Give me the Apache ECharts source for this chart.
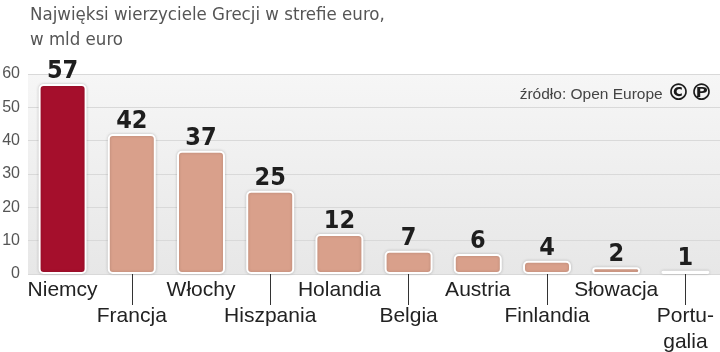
<!DOCTYPE html>
<html>
<head>
<meta charset="utf-8">
<script src="https://cdn.jsdelivr.net/npm/echarts@6/dist/echarts.min.js"></script>
<style>
  html, body { margin: 0; padding: 0; background: #fff; }
  #chart { width: 720px; height: 352px; }
</style>
</head>
<body>
<div id="chart"></div>
<script>
// dane: najwięksi wierzyciele Grecji (mld euro)
const countries = ['Niemcy', 'Francja', 'Włochy', 'Hiszpania', 'Holandia', 'Belgia', 'Austria', 'Finlandia', 'Słowacja', 'Portu-\ngalia']
const values = [57, 42, 37, 25, 12, 7, 6, 4, 2, 1]
const yTicks = [0, 10, 20, 30, 40, 50, 60]

const titleText = 'Najwięksi wierzyciele Grecji w strefie euro,\nw mld euro'
const sourceText = 'źródło: Open Europe'

const narrow = '"DejaVu Sans Condensed", sans-serif'
const plain = '"Liberation Sans", Roboto, sans-serif'

let myChart = echarts.init(document.getElementById('chart'))
let option = {
  animation: false,
  title: [
    {
      text: titleText,
      left: 25,
      top: -2,
      textStyle: {
        fontFamily: narrow,
        fontSize: 18.5,
        fontWeight: 'normal',
        lineHeight: 25,
        color: '#555'
      }
    },
    {
      text: sourceText + ' {cp|©℗}',
      right: 2,
      top: 78,
      textStyle: {
        fontFamily: plain,
        fontSize: 15.5,
        fontWeight: 'normal',
        color: '#444',
        rich: {
          cp: {
            fontFamily: '"DejaVu Sans", sans-serif',
            fontWeight: 'bold',
            fontSize: 23,
            color: '#1a1a1a'
          }
        }
      }
    }
  ],
  grid: {
    left: 28,
    right: 0,
    top: 74,
    bottom: 78,
    outerBoundsMode: 'none',
    show: true,
    borderWidth: 0,
    backgroundColor: new echarts.graphic.LinearGradient(0, 0, 0, 1, [
      { offset: 0, color: '#f6f6f6' },
      { offset: 1, color: '#e7e7e7' }
    ])
  },
  xAxis: {
    type: 'category',
    data: countries,
    axisLine: { show: false },
    axisTick: {
      show: true,
      alignWithLabel: true,
      length: 31,
      interval: function (index) { return index % 2 === 1 },
      lineStyle: { color: '#333', width: 1 }
    },
    axisLabel: {
      interval: 0,
      margin: 3,
      fontFamily: plain,
      fontSize: 21,
      lineHeight: 26,
      color: '#222',
      verticalAlign: 'top',
      formatter: function (value, index) {
        return index % 2 === 1 ? '\n' + value : value
      }
    }
  },
  yAxis: {
    type: 'value',
    min: yTicks[0],
    max: yTicks[yTicks.length - 1],
    interval: 10,
    axisLine: { show: false },
    axisTick: { show: false },
    axisLabel: {
      margin: 8,
      fontFamily: plain,
      fontSize: 16,
      color: '#555'
    },
    splitLine: {
      show: true,
      lineStyle: { color: '#d9d9d9', width: 1 }
    }
  },
  series: [
    {
      type: 'bar',
      data: values,
      barWidth: 48,
      itemStyle: {
        color: function (p) { return p.dataIndex === 0 ? '#a50f2c' : '#d9a08b' },
        borderColor: '#ffffff',
        borderWidth: 2,
        borderRadius: 4,
        shadowColor: 'rgba(0,0,0,0.18)',
        shadowBlur: 3
      },
      label: {
        show: true,
        position: 'top',
        distance: 0,
        fontFamily: narrow,
        fontWeight: 'bold',
        fontSize: 25,
        color: '#1e1e1e'
      }
    }
  ]
}
myChart.setOption(option)
</script>
</body>
</html>
